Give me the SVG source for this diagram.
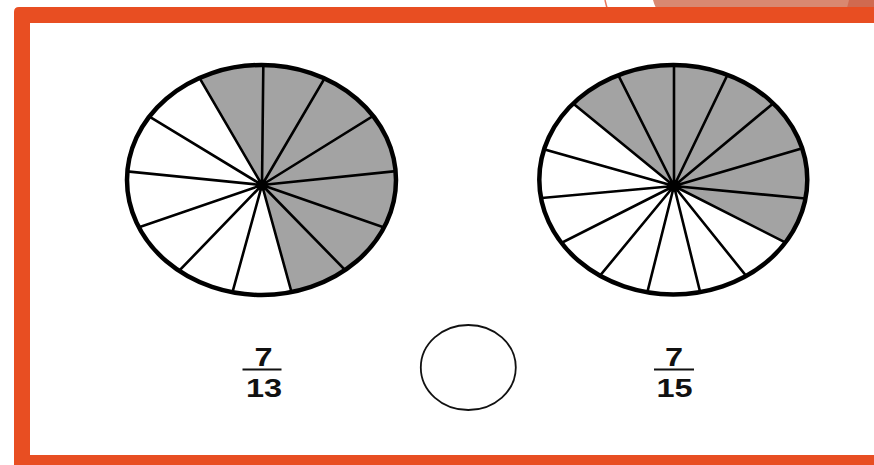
<svg xmlns="http://www.w3.org/2000/svg" width="874" height="465" viewBox="0 0 874 465">
<style>
.spoke{stroke:#000;stroke-width:2.6;fill:none}
.rim{fill:none;stroke:#000;stroke-width:4.5}
.shade{fill:#a3a3a3}
.num{font-family:"Liberation Sans",Arial,sans-serif;font-size:26px;font-weight:bold;fill:#111;text-anchor:middle}
.bar{stroke:#111;stroke-width:2}
</style>
<defs>
<clipPath id="clipL"><ellipse cx="261.5" cy="180" rx="134.5" ry="115"/></clipPath>
<clipPath id="clipR"><ellipse cx="673.3" cy="179.7" rx="134" ry="114.7"/></clipPath>
</defs>
<rect width="874" height="465" fill="#fff"/>
<g id="decor">
<path d="M653,0 L874,0 L874,8 L656,8 Q654,4 653,0 Z" fill="#d98870"/>
<path d="M849,0 L874,0 L874,8 L847,8 Z" fill="#d06a50"/>
<line x1="605" y1="0" x2="607" y2="8" stroke="#e8765a" stroke-width="1.5"/>
</g>
<g id="frame">
<path d="M14,12 Q14,7 19,7 L880,7 L880,470 L14,470 Z M30,23 L30,455 L880,455 L880,23 Z" fill="#e84e22" fill-rule="evenodd"/>
</g>
<g id="pie13">
<g clip-path="url(#clipL)">
<polygon class="shade" points="262,185 183.6,50.7 263.7,31.2 339.6,52.8 398.1,100.5 428.4,167.7 419.7,240 374.2,299.8 301.4,328"/>
<path class="spoke" d="M262,185L263.7,31.2M262,185L339.6,52.8M262,185L398.1,100.5M262,185L428.4,167.7M262,185L419.7,240M262,185L374.2,299.8M262,185L301.4,328M262,185L222.6,328M262,185L151.1,299.8M262,185L104.3,239.2M262,185L90.4,167.7M262,185L122.9,100.5M262,185L183.6,50.7"/>
</g>
<ellipse class="rim" cx="261.5" cy="180" rx="134.5" ry="115"/>
<circle cx="262" cy="185" r="5.5" fill="#000"/>
</g>
<g id="pie15">
<g clip-path="url(#clipR)">
<polygon class="shade" points="674,186 549.6,84.2 604.7,48.2 674,32.2 740.3,48.2 795.3,85 833.5,139.2 841.3,202 818.3,259.2"/>
<path class="spoke" d="M674,186L674,32.2M674,186L740.3,48.2M674,186L795.3,85M674,186L833.5,139.2M674,186L841.3,202M674,186L818.3,259.2M674,186L772.8,309.1M674,186L708.7,326.8M674,186L639.3,324.2M674,186L575.6,305.2M674,186L529.3,259.2M674,186L506.3,201.2M674,186L512.8,140.5M674,186L549.6,84.2M674,186L604.7,48.2"/>
</g>
<ellipse class="rim" cx="673.3" cy="179.7" rx="134" ry="114.7"/>
<circle cx="674" cy="186" r="5.5" fill="#000"/>
</g>
<g id="frac13">
<text class="num" transform="translate(263.5,365.5) scale(1.25,1)">7</text>
<line class="bar" x1="242.5" y1="369.5" x2="281.5" y2="369.5"/>
<text class="num" transform="translate(264,397) scale(1.25,1)">13</text>
</g>
<g id="compare">
<ellipse cx="468.3" cy="367.5" rx="47.5" ry="42.5" fill="none" stroke="#111" stroke-width="1.8"/>
</g>
<g id="frac15">
<text class="num" transform="translate(674,365.5) scale(1.25,1)">7</text>
<line class="bar" x1="654" y1="369.5" x2="694" y2="369.5"/>
<text class="num" transform="translate(674.5,397) scale(1.25,1)">15</text>
</g>
</svg>
